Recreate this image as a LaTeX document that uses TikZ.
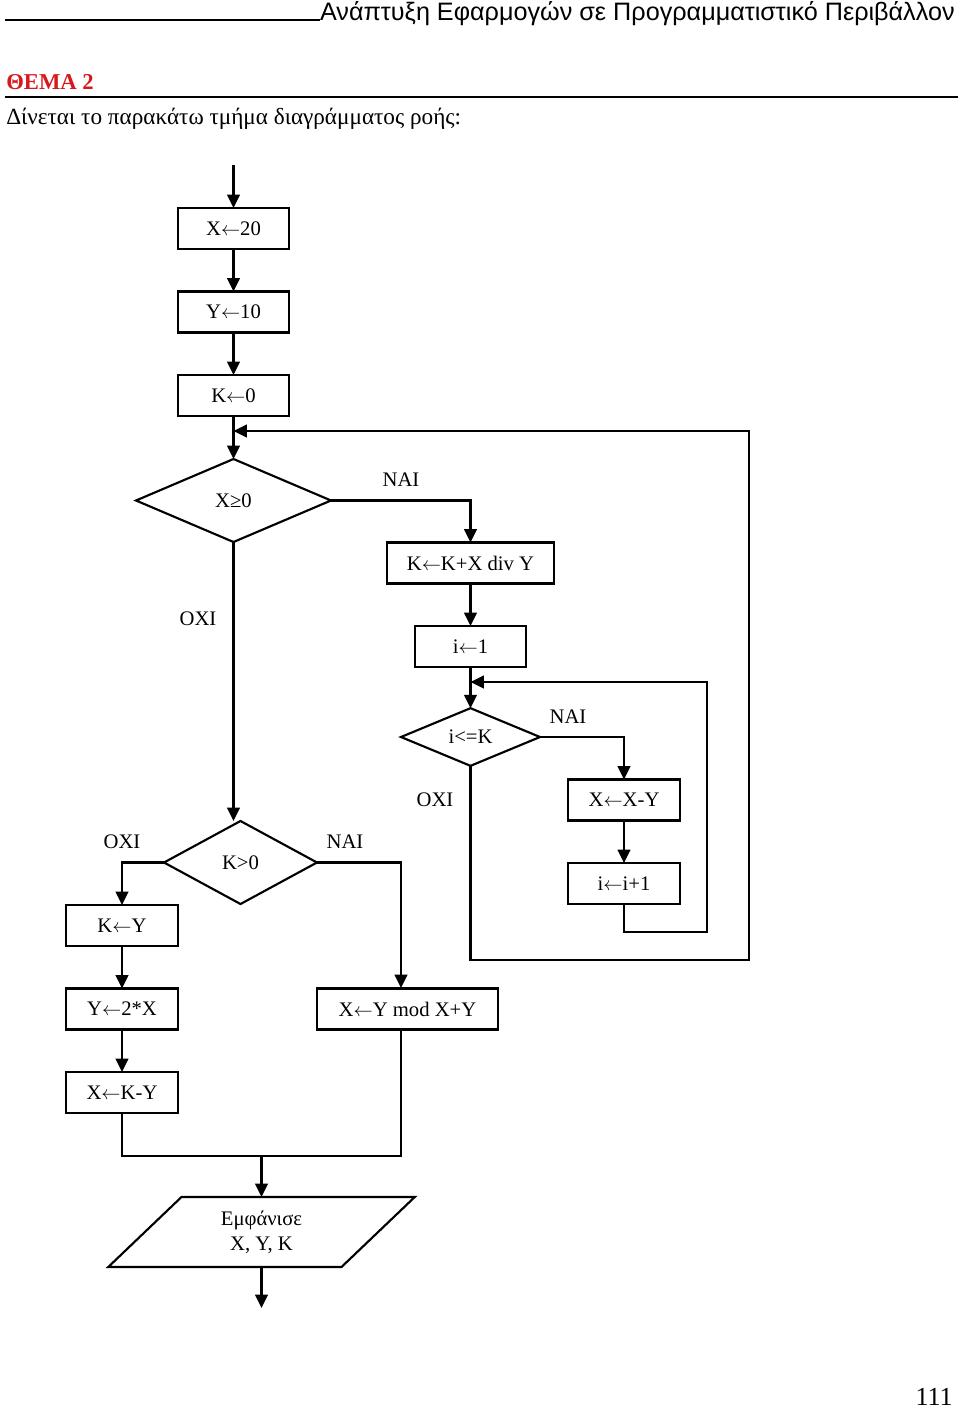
\documentclass[tikz,border=0pt]{standalone}
\usepackage{fontspec}
\setmainfont{Liberation Serif}
\newfontfamily\hdrfont{Liberation Sans}
\usetikzlibrary{arrows.meta,shapes.geometric}
\definecolor{themred}{RGB}{215,25,30}
\newcommand{\asg}{\ensuremath{\leftarrow}}
\tikzset{
  fbox/.style={draw, line width=1.6pt, minimum height=30.75pt, inner sep=0pt, outer sep=0pt},
  fdia/.style={draw, diamond, line width=1.6pt, inner sep=0pt, outer sep=0pt},
  lbl/.style={inner sep=0pt},
  conn/.style={line width=1.6pt},
  arr/.style={conn, -{Triangle[length=10pt,width=9.5pt]}},
}
\begin{document}
\begin{tikzpicture}[x=0.75pt,y=-0.75pt, font=\fontsize{15.5pt}{18.75pt}\selectfont]
\fill[white] (0,0) rectangle (960,1410);
\useasboundingbox (0,0) rectangle (960,1410);

% header
\node[anchor=base east, inner sep=0pt] (hdr) at (955,20)
  {\resizebox{476pt}{!}{\hdrfont\fontsize{19pt}{22pt}\selectfont Ανάπτυξη Εφαρμογών σε Προγραμματιστικό Περιβάλλον}};
\coordinate (ul) at (5,20);
\draw[line width=1.6pt] (ul) -- (hdr.base west);
\node[anchor=base west, inner sep=0pt, text=themred, font=\bfseries\fontsize{17pt}{20pt}\selectfont] (thema) at (6,89) {ΘΕΜΑ 2};
\coordinate (hl1) at (5,97);
\coordinate (hl2) at (958,97);
\draw[line width=1.2pt] (hl1) -- (hl2);
\node[anchor=base west, inner sep=0pt, font=\fontsize{17.4pt}{20pt}\selectfont] (intro) at (6,124) {Δίνεται το παρακάτω τμήμα διαγράμματος ροής:};
\node[anchor=base east, inner sep=0pt, font=\fontsize{19.5pt}{22pt}\selectfont] (pg) at (953,1405) {111};

% flowchart nodes
\coordinate (start) at (233.5,165);
\node[fbox, minimum width=83.25pt] (b1) at (233.5,228.5) {X\asg20};
\node[fbox, minimum width=83.25pt] (b2) at (233.5,312) {Y\asg10};
\node[fbox, minimum width=83.25pt] (b3) at (233.5,395.5) {K\asg0};
\node[fdia, minimum width=146.25pt, minimum height=62.25pt] (d1) at (233.5,500.5) {X≥0};
\node[fbox, minimum width=125.25pt] (b4) at (470.5,563) {K\asg K+X div Y};
\node[fbox, minimum width=83.25pt] (b5) at (470.5,646.5) {i\asg1};
\node[fdia, minimum width=104.25pt, minimum height=42pt] (d2) at (470.5,737) {i<=K};
\node[fbox, minimum width=84pt] (b6) at (624,800) {X\asg X-Y};
\node[fbox, minimum width=84pt] (b7) at (624,883.5) {i\asg i+1};
\node[fdia, minimum width=114.75pt, minimum height=62.25pt] (d3) at (240.5,862.5) {K>0};
\node[fbox, minimum width=84pt] (b8) at (122,925.5) {K\asg Y};
\node[fbox, minimum width=84pt] (b9) at (122,1009) {Y\asg2*X};
\node[fbox, minimum width=84pt] (b10) at (122,1092.5) {X\asg K-Y};
\node[fbox, minimum width=135.75pt] (b11) at (407.5,1009) {X\asg Y mod X+Y};
\node[draw, trapezium, trapezium left angle=49, trapezium right angle=131, trapezium stretches=true,
      minimum width=230.25pt, minimum height=52.5pt, inner sep=0pt, outer sep=0pt, line width=1.6pt, align=center]
      (out) at (261.5,1232) {Εμφάνισε\\X, Y, K};
\coordinate (end) at (261.5,1308);

% labels
\node[lbl] (yes1) at (401,480) {ΝΑΙ};
\node[lbl] (no1) at (198,619) {ΟΧΙ};
\node[lbl] (yes2) at (568,717) {ΝΑΙ};
\node[lbl] (no2) at (435,800) {ΟΧΙ};
\node[lbl] (no3) at (122,842) {ΟΧΙ};
\node[lbl] (yes3) at (345,842) {ΝΑΙ};

% connectors
\draw[arr] (start) -- (b1);
\draw[arr] (b1) -- (b2);
\draw[arr] (b2) -- (b3);
\draw[arr] (b3) -- (d1);
\draw[arr] (d1.east) -| (b4.north);
\draw[arr] (b4) -- (b5);
\draw[arr] (b5) -- (d2);
\draw[arr] (d2.east) -| (b6.north);
\draw[arr] (b6) -- (b7);
\coordinate (loop2) at (707,932);
\coordinate (j2) at (470.5,682);
\draw[arr] (b7.south) |- (loop2) |- (j2);
\coordinate (loop1) at (749,960);
\coordinate (j1) at (233.5,431);
\draw[arr] (d2.south) |- (loop1) |- (j1);
\draw[arr] (d1.south) -- (d1.south |- d3.north);
\draw[arr] (d3.west) -| (b8.north);
\coordinate (m1) at (401,988);
\draw[arr] (d3.east) -| (m1);
\draw[arr] (b8) -- (b9);
\draw[arr] (b9) -- (b10);
\coordinate (mg) at (401,1156);
\coordinate (j3) at (261.5,1156);
\draw[conn] (b10.south) |- (mg) -- (mg |- b11.south);
\draw[arr] (j3) -- (j3 |- out.north);
\draw[arr] (end |- out.south) -- (end);
\end{tikzpicture}
\end{document}
